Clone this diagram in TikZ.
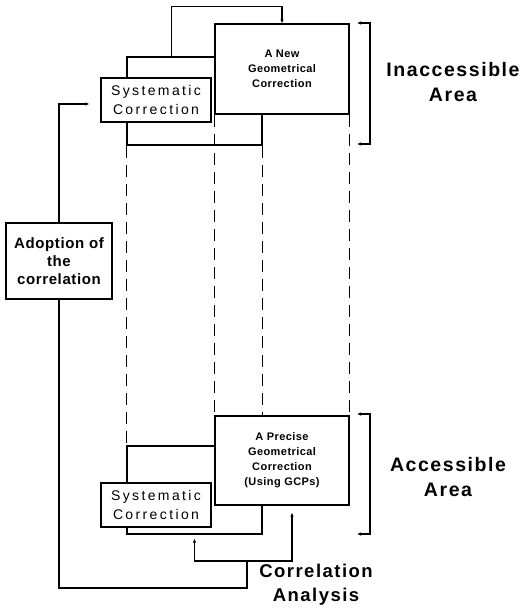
\documentclass[tikz,border=0pt]{standalone}
\usepackage{fontspec}
\setmainfont{Liberation Sans}
\newfontfamily\widefont[LetterSpace=8]{Liberation Sans}
\newfontfamily\sysfont[LetterSpace=17]{Liberation Sans}
\newfontfamily\boxfont[LetterSpace=4]{Liberation Sans}
\usetikzlibrary{arrows.meta}

\begin{document}
\begin{tikzpicture}[x=1pt,y=-1pt,line width=1.3pt,
  tip/.style={-{Latex[length=4pt,width=3.5pt]}},
  bothtip/.style={{Latex[length=4pt,width=3.5pt]}-{Latex[length=4pt,width=3.5pt]}},
  frame/.style={draw,minimum width=135pt,minimum height=88pt,inner sep=0pt},
  corrbox/.style={draw,fill=white,align=center,font=\boxfont\bfseries\fontsize{11}{15}\selectfont,minimum width=134pt,minimum height=90pt,inner sep=0pt},
  sysbox/.style={draw,fill=white,align=center,font=\sysfont\fontsize{14}{19}\selectfont,minimum width=110pt,minimum height=44pt,inner sep=0pt},
  arealabel/.style={align=center,font=\widefont\bfseries\fontsize{19.5}{25}\selectfont},
  guide/.style={dash pattern=on 12pt off 7pt}]
\useasboundingbox (0,0) rectangle (526,609);

\node[frame] (frametop) at (194.5,101) {};
\node[frame] (framebot) at (194.5,490) {};

\draw[guide] (frametop.south west) -- (framebot.north west);

\node[corrbox] (newcorr) at (282,69) {A New\\Geometrical\\Correction};
\node[corrbox,minimum height=89pt] (precise) at (282,460.5) {A Precise\\Geometrical\\Correction\\(Using GCPs)};
\node[sysbox] (systop) at (156,100) {Systematic\\Correction};
\node[sysbox] (sysbot) at (156,505) {Systematic\\Correction};
\node[draw,fill=white,align=center,font=\boxfont\bfseries\fontsize{15}{18}\selectfont,minimum width=106pt,minimum height=76pt,inner sep=0pt] (adopt) at (59,261) {Adoption of\\the\\correlation};

\draw[guide] (frametop.south east) -- (precise.north -| frametop.south east);
\draw[guide] (newcorr.south west) -- (precise.north west);
\draw[guide] (newcorr.south east) -- (precise.north east);

\draw[tip] ([xshift=45pt]frametop.north west) -- ++(0,-50) -| (newcorr.north);

\coordinate (ca) at (247,561);
\draw[tip,shorten >=4pt] (ca) -| (framebot.south);
\draw[tip,shorten >=7pt] (ca) -| ([xshift=10pt]precise.south);
\draw (ca) -- ++(0,27) -| (adopt.south);
\draw[tip,shorten >=11pt] (adopt.north) |- ([yshift=-4pt]systop.west);

\draw[bothtip] (357,23) -- ++(13,0) |- (357,144);
\draw[bothtip] (357,414) -- ++(13,0) |- (357,534);

\node[arealabel] (inacc) at (453,82) {Inaccessible\\Area};
\node[arealabel] (acc) at (448,477) {Accessible\\Area};
\node[arealabel,font=\widefont\bfseries\fontsize{18.5}{24}\selectfont] (corran) at (316,585) {Correlation\\Analysis};
\end{tikzpicture}
\end{document}
